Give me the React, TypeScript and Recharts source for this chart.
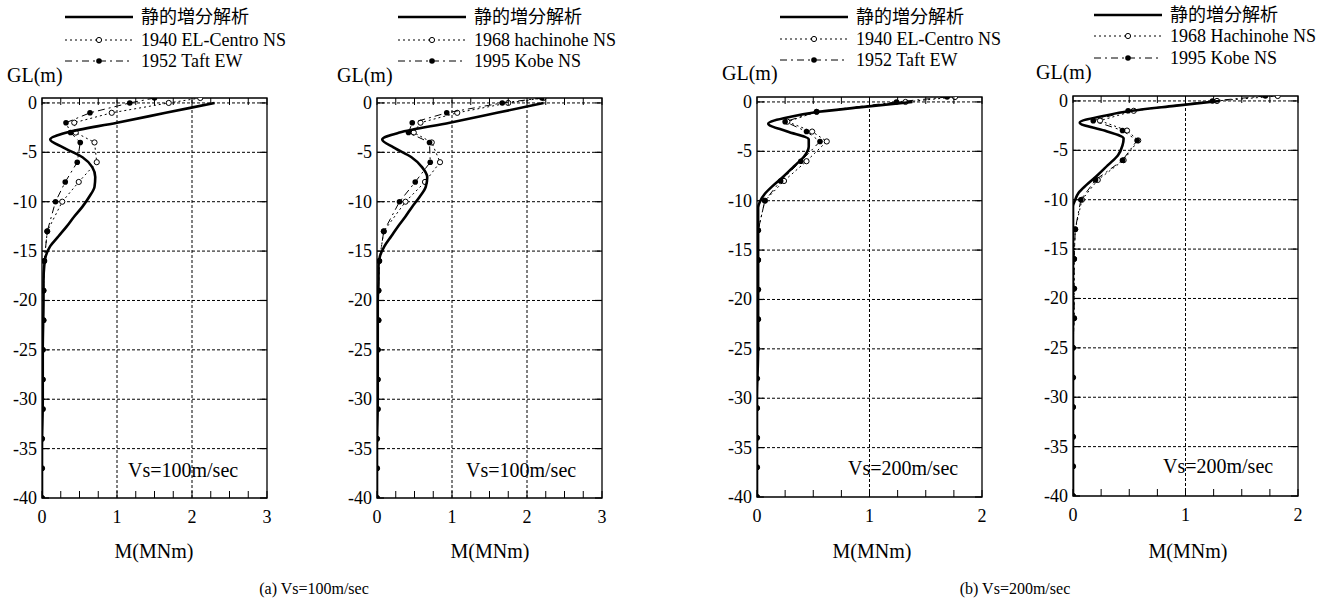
import React from 'react';
import { ComposedChart, Scatter, XAxis, YAxis, ReferenceLine, ReferenceArea } from 'recharts';

const SERIF = '"Liberation Serif", "Times New Roman", "Noto Sans CJK JP", serif';

// axis ticks
const glTicks = [0, -5, -10, -15, -20, -25, -30, -35, -40];
const gridDepths = [0, -5, -10, -15, -20, -25, -30, -35];
const mTicks3 = [0, 0.25, 0.5, 0.75, 1, 1.25, 1.5, 1.75, 2, 2.25, 2.5, 2.75, 3];
const mTicks2 = [0, 0.25, 0.5, 0.75, 1, 1.25, 1.5, 1.75, 2];

// depths (GL m) of the time-history results
const quakeDepths = [0.5, 0, -1, -2, -3, -4, -6, -8, -10, -13, -16, -19, -22, -25, -28, -31, -34, -37, -40];
// depths of the static incremental analysis curve
const staticDepthsA = [0, -1, -2, -3, -3.7, -4.5, -5.5, -6.5, -7.5, -8.5, -9.5, -10.5, -11.5, -12.5, -13.5, -14.5, -15.5, -16.5, -18, -20, -25, -30, -35, -40];
const staticDepthsB = [0, -0.5, -1, -1.5, -2.2, -3, -3.8, -4.5, -5.5, -6.5, -7.5, -8.5, -9.3, -10, -10.7, -12, -15, -20, -25, -30, -35, -40];

// (a) Vs=100m/sec
const static100a = [2.3, 1.65, 1.0, 0.33, 0.11, 0.28, 0.54, 0.67, 0.71, 0.7, 0.63, 0.54, 0.43, 0.33, 0.22, 0.11, 0.05, 0.03, 0.02, 0.02, 0.01, 0.01, 0, 0];
const elCentro100 = [2.11, 1.69, 0.93, 0.43, 0.45, 0.7, 0.73, 0.49, 0.27, 0.07, 0.03, 0.02, 0.02, 0.01, 0.01, 0.01, 0, 0, 0];
const taft100 = [1.5, 1.17, 0.64, 0.32, 0.38, 0.51, 0.47, 0.31, 0.18, 0.07, 0.03, 0.02, 0.02, 0.01, 0.01, 0.01, 0, 0, 0];
const static100b = [2.22, 1.6, 0.97, 0.3, 0.07, 0.22, 0.46, 0.6, 0.67, 0.65, 0.57, 0.47, 0.38, 0.28, 0.19, 0.1, 0.04, 0.02, 0.02, 0.01, 0.01, 0.01, 0, 0];
const hachinohe100 = [2.22, 1.75, 1.07, 0.58, 0.49, 0.73, 0.84, 0.64, 0.38, 0.09, 0.03, 0.02, 0.02, 0.01, 0.01, 0.01, 0, 0, 0];
const kobe100 = [2.2, 1.67, 0.93, 0.47, 0.42, 0.7, 0.71, 0.51, 0.3, 0.09, 0.03, 0.02, 0.02, 0.01, 0.01, 0.01, 0, 0, 0];

// (b) Vs=200m/sec
const static200a = [1.38, 0.95, 0.55, 0.3, 0.1, 0.27, 0.46, 0.46, 0.42, 0.33, 0.24, 0.14, 0.07, 0.03, 0.01, 0.01, 0.01, 0.01, 0.01, 0, 0, 0];
const elCentro200 = [1.76, 1.32, 0.53, 0.27, 0.49, 0.62, 0.44, 0.24, 0.07, 0.01, 0.01, 0.01, 0.01, 0, 0, 0, 0, 0, 0];
const taft200 = [1.69, 1.24, 0.53, 0.25, 0.44, 0.56, 0.39, 0.21, 0.07, 0.01, 0.01, 0.01, 0.01, 0, 0, 0, 0, 0, 0];
const static200b = [1.3, 0.9, 0.52, 0.28, 0.06, 0.28, 0.45, 0.44, 0.4, 0.31, 0.22, 0.12, 0.05, 0.02, 0, 0, 0, 0, 0, 0, 0, 0];
const hachinohe200 = [1.82, 1.28, 0.54, 0.24, 0.48, 0.58, 0.45, 0.22, 0.08, 0.02, 0.01, 0.01, 0.01, 0, 0, 0, 0, 0, 0];
const kobe200 = [1.71, 1.24, 0.49, 0.18, 0.44, 0.57, 0.44, 0.2, 0.07, 0.02, 0.01, 0.01, 0.01, 0, 0, 0, 0, 0, 0];

const toPoints = (depths: number[], values: number[]) =>
  depths.map((gl, i) => ({ gl, m: values[i] }));

const PLOT_W = 225;
const PLOT_H = 400;
const Y_W = 50;
const X_H = 60;
const PAD_R = 12;

const DOT_DASH = '2 3';
const CHAIN_DASH = '7 4 2 4';

const OpenDot = (props: any) => {
  const { cx, cy } = props;
  if (cx == null || cy == null) return <g />;
  return <circle cx={cx} cy={cy} r={2.6} fill="#fff" stroke="#000" strokeWidth={1} />;
};

const FilledDot = (props: any) => {
  const { cx, cy } = props;
  if (cx == null || cy == null) return <g />;
  return <circle cx={cx} cy={cy} r={2.8} fill="#000" />;
};

const NoDot = () => <g />;

interface PanelDef {
  plotLeft: number;
  plotTop: number;
  xMax: number;
  xTicks: number[];
  depths: number[];
  staticVals: number[];
  openVals: number[];
  filledVals: number[];
  legend: string[];
  legendX: number;
  legendY: number[];
  glX: number;
  glY: number;
  vsText: string;
  vsX: number;
  vsY: number;
  titleX: number;
}

const panels: PanelDef[] = [
  {
    plotLeft: 42, plotTop: 98, xMax: 3, xTicks: mTicks3,
    depths: staticDepthsA, staticVals: static100a, openVals: elCentro100, filledVals: taft100,
    legend: ['静的増分解析', '1940 EL-Centro NS', '1952 Taft EW'],
    legendX: 65, legendY: [17, 40, 61], glX: 7, glY: 75,
    vsText: 'Vs=100m/sec', vsX: 128, vsY: 470, titleX: 154,
  },
  {
    plotLeft: 377, plotTop: 98, xMax: 3, xTicks: mTicks3,
    depths: staticDepthsA, staticVals: static100b, openVals: hachinohe100, filledVals: kobe100,
    legend: ['静的増分解析', '1968 hachinohe NS', '1995 Kobe NS'],
    legendX: 398, legendY: [17, 40, 61], glX: 337, glY: 75,
    vsText: 'Vs=100m/sec', vsX: 466, vsY: 470, titleX: 490,
  },
  {
    plotLeft: 757, plotTop: 97, xMax: 2, xTicks: mTicks2,
    depths: staticDepthsB, staticVals: static200a, openVals: elCentro200, filledVals: taft200,
    legend: ['静的増分解析', '1940 EL-Centro NS', '1952 Taft EW'],
    legendX: 780, legendY: [17, 39, 60], glX: 722, glY: 73,
    vsText: 'Vs=200m/sec', vsX: 848, vsY: 468, titleX: 872,
  },
  {
    plotLeft: 1073, plotTop: 96, xMax: 2, xTicks: mTicks2,
    depths: staticDepthsB, staticVals: static200b, openVals: hachinohe200, filledVals: kobe200,
    legend: ['静的増分解析', '1968 Hachinohe NS', '1995 Kobe NS'],
    legendX: 1094, legendY: [15, 36, 58], glX: 1036, glY: 72,
    vsText: 'Vs=200m/sec', vsX: 1163, vsY: 466, titleX: 1188,
  },
];

const Panel = ({ p }: { p: PanelDef }) => {
  const top = p.plotTop;
  const bottom = top + PLOT_H;
  const left = Y_W;
  const right = Y_W + PLOT_W;

  const renderXTick = (props: any) => {
    const { x, payload } = props;
    const v = payload.value as number;
    return (
      <g>
        <line x1={x} y1={bottom} x2={x} y2={bottom - 7} stroke="#000" strokeWidth={1} />
        <line x1={x} y1={top} x2={x} y2={top + 7} stroke="#000" strokeWidth={1} />
        {Number.isInteger(v) && (
          <text x={x} y={bottom + 19} textAnchor="middle" dominantBaseline="central"
            fontFamily={SERIF} fontSize={18} fill="#000">{v}</text>
        )}
      </g>
    );
  };

  const renderYTick = (props: any) => {
    const { y, payload } = props;
    return (
      <g>
        <line x1={left} y1={y} x2={left + 7} y2={y} stroke="#000" strokeWidth={1.2} />
        <line x1={right - 7} y1={y} x2={right} y2={y} stroke="#000" strokeWidth={1.2} />
        <text x={left - 5} y={y} textAnchor="end" dominantBaseline="central"
          fontFamily={SERIF} fontSize={18} fill="#000">{payload.value}</text>
      </g>
    );
  };

  return (
    <div style={{ position: 'absolute', left: p.plotLeft - Y_W, top: 0 }}>
      <ComposedChart
        width={Y_W + PLOT_W + PAD_R}
        height={600}
        margin={{ top, right: PAD_R, bottom: 600 - top - PLOT_H - X_H, left: 0 }}
      >
        <XAxis type="number" dataKey="m" domain={[0, p.xMax]} ticks={p.xTicks} allowDataOverflow
          axisLine={false} tickLine={false} tick={renderXTick} height={X_H} interval={0} />
        <YAxis type="number" dataKey="gl" domain={[-40, 0.5]} ticks={glTicks} allowDataOverflow
          axisLine={false} tickLine={false} tick={renderYTick} width={Y_W} interval={0} />
        {gridDepths.map((d) => (
          <ReferenceLine key={`h${d}`} y={d} stroke="#000" strokeWidth={1} strokeDasharray="3 2" />
        ))}
        {p.xTicks.filter((t) => Number.isInteger(t) && t > 0 && t < p.xMax).map((t) => (
          <ReferenceLine key={`v${t}`} x={t} stroke="#000" strokeWidth={1} strokeDasharray="3 2" />
        ))}
        <ReferenceArea x1={0} x2={p.xMax} y1={-40} y2={0.5} fill="none" fillOpacity={0}
          stroke="#000" strokeWidth={1.3} />
        <Scatter data={toPoints(quakeDepths, p.openVals)} shape={OpenDot}
          line={{ stroke: '#000', strokeWidth: 1, strokeDasharray: DOT_DASH }} lineJointType="linear"
          isAnimationActive={false} />
        <Scatter data={toPoints(quakeDepths, p.filledVals)} shape={FilledDot}
          line={{ stroke: '#000', strokeWidth: 1, strokeDasharray: CHAIN_DASH }} lineJointType="linear"
          isAnimationActive={false} />
        <Scatter data={toPoints(p.depths, p.staticVals)} shape={NoDot}
          line={{ stroke: '#000', strokeWidth: 2.6 }} lineJointType="monotoneY"
          isAnimationActive={false} />
      </ComposedChart>
    </div>
  );
};

const LegendBlock = ({ p }: { p: PanelDef }) => {
  const x1 = p.legendX;
  const x2 = p.legendX + 68;
  const mid = (x1 + x2) / 2;
  const textX = x2 + 8;
  const [y0, y1, y2] = p.legendY;
  return (
    <g>
      <line x1={x1} y1={y0} x2={x2} y2={y0} stroke="#000" strokeWidth={2.6} />
      <text x={textX} y={y0} dominantBaseline="central" fontFamily={SERIF} fontSize={18}>{p.legend[0]}</text>
      <line x1={x1} y1={y1} x2={x2} y2={y1} stroke="#000" strokeWidth={1} strokeDasharray={DOT_DASH} />
      <circle cx={mid} cy={y1} r={2.6} fill="#fff" stroke="#000" strokeWidth={1} />
      <text x={textX} y={y1} dominantBaseline="central" fontFamily={SERIF} fontSize={18}>{p.legend[1]}</text>
      <line x1={x1} y1={y2} x2={x2} y2={y2} stroke="#000" strokeWidth={1} strokeDasharray={CHAIN_DASH} />
      <circle cx={mid} cy={y2} r={2.8} fill="#000" />
      <text x={textX} y={y2} dominantBaseline="central" fontFamily={SERIF} fontSize={18}>{p.legend[2]}</text>
      <text x={p.glX} y={p.glY} dominantBaseline="central" fontFamily={SERIF} fontSize={20}>GL(m)</text>
      <text x={p.vsX} y={p.vsY} dominantBaseline="central" fontFamily={SERIF} fontSize={20}>{p.vsText}</text>
      <text x={p.titleX} y={551} textAnchor="middle" dominantBaseline="central" fontFamily={SERIF} fontSize={20}>M(MNm)</text>
    </g>
  );
};

export default function App() {
  return (
    <div style={{ position: 'absolute', left: 0, top: 0, width: 1326, height: 600, background: '#fff', overflow: 'hidden' }}>
      {panels.map((p, i) => (
        <Panel key={i} p={p} />
      ))}
      <svg width={1326} height={600} style={{ position: 'absolute', left: 0, top: 0, pointerEvents: 'none' }}>
        {panels.map((p, i) => (
          <LegendBlock key={i} p={p} />
        ))}
        <text x={314} y={588} textAnchor="middle" dominantBaseline="central" fontFamily={SERIF} fontSize={16}>(a) Vs=100m/sec</text>
        <text x={1015} y={588} textAnchor="middle" dominantBaseline="central" fontFamily={SERIF} fontSize={16}>(b) Vs=200m/sec</text>
      </svg>
    </div>
  );
}
